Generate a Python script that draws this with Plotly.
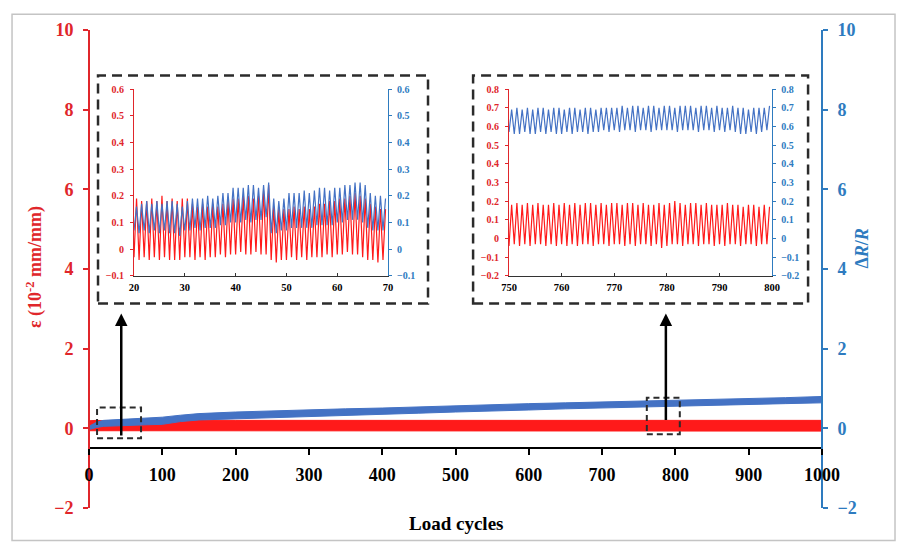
import plotly.graph_objects as go

# ---------------- data ----------------
# main chart: envelope of the oscillating signals (value read at cycle)
band_cycles = [0, 10, 20, 50, 80, 100, 125, 150, 200, 250, 300, 350, 400, 450,
               500, 550, 600, 650, 700, 750, 800, 850, 900, 950, 1000]
blue_upper = [0.05, 0.15, 0.20, 0.23, 0.26, 0.28, 0.33, 0.37, 0.41, 0.44, 0.46, 0.49, 0.51,
              0.54, 0.57, 0.60, 0.62, 0.64, 0.66, 0.68, 0.70, 0.72, 0.74, 0.77, 0.80]
blue_lower = [-0.03, 0.02, 0.05, 0.07, 0.09, 0.10, 0.17, 0.21, 0.24, 0.27, 0.29, 0.32, 0.35,
              0.38, 0.41, 0.44, 0.46, 0.49, 0.51, 0.54, 0.56, 0.58, 0.60, 0.62, 0.64]
red_upper = [0.19, 0.20, 0.19, 0.20, 0.21, 0.20, 0.20, 0.21, 0.20, 0.20, 0.21, 0.20, 0.20,
             0.21, 0.20, 0.20, 0.21, 0.20, 0.21, 0.20, 0.20, 0.21, 0.20, 0.21, 0.20]
red_lower = [-0.06, -0.07, -0.06, -0.07, -0.06, -0.07, -0.07, -0.06, -0.07, -0.07, -0.06, -0.07, -0.07,
             -0.06, -0.07, -0.07, -0.06, -0.07, -0.07, -0.06, -0.07, -0.07, -0.06, -0.07, -0.07]

# inset 1: cycles 20-69, per-cycle troughs and peaks
in1_cycles = list(range(20, 70))
in1_blue_peak = [0.16, 0.17, 0.18, 0.17, 0.18, 0.17, 0.18, 0.18, 0.17, 0.16,
                 0.18, 0.19, 0.19, 0.19, 0.20, 0.19, 0.20, 0.21, 0.21, 0.23,
                 0.23, 0.23, 0.24, 0.24, 0.23, 0.24, 0.25, 0.19, 0.18, 0.19,
                 0.21, 0.21, 0.21, 0.22, 0.21, 0.22, 0.23, 0.23, 0.22, 0.23,
                 0.23, 0.24, 0.24, 0.25, 0.25, 0.24, 0.21, 0.20, 0.20, 0.19]
in1_blue_trough = [0.07, 0.06, 0.07, 0.06, 0.07, 0.06, 0.07, 0.06, 0.06, 0.05,
                   0.07, 0.07, 0.08, 0.07, 0.08, 0.08, 0.08, 0.09, 0.09, 0.10,
                   0.10, 0.10, 0.11, 0.10, 0.11, 0.11, 0.12, 0.06, 0.06, 0.07,
                   0.07, 0.08, 0.08, 0.08, 0.08, 0.08, 0.09, 0.09, 0.09, 0.09,
                   0.10, 0.10, 0.11, 0.11, 0.11, 0.10, 0.08, 0.07, 0.07, 0.07]
in1_red_peak = [0.19, 0.18, 0.18, 0.19, 0.18, 0.20, 0.18, 0.19, 0.18, 0.19,
                0.19, 0.17, 0.16, 0.17, 0.16, 0.17, 0.16, 0.17, 0.18, 0.19,
                0.19, 0.20, 0.20, 0.19, 0.20, 0.22, 0.24, 0.16, 0.15, 0.15,
                0.15, 0.16, 0.15, 0.16, 0.15, 0.16, 0.17, 0.17, 0.18, 0.18,
                0.19, 0.19, 0.20, 0.21, 0.20, 0.19, 0.17, 0.16, 0.15, 0.15]
in1_red_trough = [-0.03, -0.04, -0.03, -0.04, -0.03, -0.04, -0.03, -0.04, -0.04, -0.04,
                  -0.03, -0.03, -0.04, -0.03, -0.04, -0.03, -0.03, -0.02, -0.03, -0.02,
                  -0.02, -0.01, -0.02, -0.02, -0.01, -0.02, -0.02, -0.04, -0.05, -0.04,
                  -0.04, -0.03, -0.04, -0.03, -0.04, -0.03, -0.03, -0.03, -0.02, -0.03,
                  -0.02, -0.02, -0.01, -0.02, -0.02, -0.03, -0.04, -0.04, -0.05, -0.04]

# inset 2: cycles 750-799
in2_cycles = list(range(750, 800))
in2_blue_peak = [0.69, 0.70, 0.69, 0.70, 0.69, 0.70, 0.70, 0.69, 0.70, 0.70,
                 0.69, 0.70, 0.70, 0.69, 0.70, 0.70, 0.69, 0.70, 0.70, 0.70,
                 0.70, 0.71, 0.70, 0.71, 0.71, 0.70, 0.71, 0.71, 0.70, 0.71,
                 0.71, 0.70, 0.71, 0.71, 0.71, 0.70, 0.71, 0.71, 0.70, 0.71,
                 0.70, 0.70, 0.71, 0.70, 0.70, 0.69, 0.70, 0.70, 0.70, 0.71]
in2_blue_trough = [0.57, 0.56, 0.56, 0.57, 0.56, 0.56, 0.57, 0.56, 0.57, 0.56,
                   0.56, 0.57, 0.56, 0.57, 0.57, 0.56, 0.57, 0.57, 0.58, 0.57,
                   0.58, 0.57, 0.58, 0.58, 0.57, 0.58, 0.58, 0.57, 0.58, 0.58,
                   0.58, 0.58, 0.57, 0.58, 0.58, 0.58, 0.57, 0.58, 0.58, 0.57,
                   0.58, 0.57, 0.58, 0.57, 0.56, 0.56, 0.57, 0.56, 0.57, 0.58]
in2_red_peak = [0.18, 0.19, 0.18, 0.19, 0.18, 0.19, 0.18, 0.18, 0.19, 0.18,
                0.19, 0.18, 0.19, 0.18, 0.19, 0.19, 0.18, 0.19, 0.18, 0.19,
                0.19, 0.18, 0.19, 0.19, 0.18, 0.19, 0.18, 0.18, 0.19, 0.18,
                0.19, 0.20, 0.19, 0.18, 0.19, 0.19, 0.18, 0.19, 0.18, 0.18,
                0.18, 0.19, 0.18, 0.18, 0.17, 0.18, 0.18, 0.17, 0.18, 0.17]
in2_red_trough = [-0.04, -0.03, -0.04, -0.03, -0.04, -0.03, -0.03, -0.04, -0.03, -0.04,
                  -0.03, -0.04, -0.03, -0.04, -0.03, -0.03, -0.04, -0.03, -0.03, -0.04,
                  -0.03, -0.03, -0.04, -0.03, -0.04, -0.03, -0.03, -0.04, -0.03, -0.05,
                  -0.04, -0.03, -0.03, -0.04, -0.03, -0.03, -0.04, -0.03, -0.03, -0.04,
                  -0.03, -0.04, -0.03, -0.03, -0.04, -0.03, -0.03, -0.04, -0.03, -0.03]

main_x_ticks = [0, 100, 200, 300, 400, 500, 600, 700, 800, 900, 1000]
main_y_ticks = [-2, 0, 2, 4, 6, 8, 10]
in1_x_ticks = [20, 30, 40, 50, 60, 70]
in1_y_ticks = [-0.1, 0, 0.1, 0.2, 0.3, 0.4, 0.5, 0.6]
in2_x_ticks = [750, 760, 770, 780, 790, 800]
in2_y_ticks = [-0.2, -0.1, 0, 0.1, 0.2, 0.3, 0.4, 0.5, 0.6, 0.7, 0.8]

# ---------------- style ----------------
RED = "#ff1a1a"
RED_AX = "#e0262b"
BLUE = "#4472c4"
BLUE_AX = "#2e7bbf"
FONT = "Liberation Serif"


def band(xs, lo, hi):
    return list(xs) + list(xs)[::-1], list(hi) + list(lo)[::-1]


def zigzag(cycles, troughs, peaks):
    xs, ys = [], []
    for c, t, p in zip(cycles, troughs, peaks):
        xs += [c, c + 0.5]
        ys += [t, p]
    return xs, ys


fig = go.Figure()

bx, by = band(band_cycles, red_lower, red_upper)
fig.add_trace(go.Scatter(x=bx, y=by, fill="toself", fillcolor=RED, mode="lines",
                         line=dict(color=RED, width=1), xaxis="x", yaxis="y", hoverinfo="skip"))
bx, by = band(band_cycles, blue_lower, blue_upper)
fig.add_trace(go.Scatter(x=bx, y=by, fill="toself", fillcolor=BLUE, mode="lines",
                         line=dict(color=BLUE, width=1), xaxis="x", yaxis="y2", hoverinfo="skip"))

zx, zy = zigzag(in1_cycles, in1_red_trough, in1_red_peak)
fig.add_trace(go.Scatter(x=zx, y=zy, mode="lines", line=dict(color=RED, width=1.2),
                         xaxis="x3", yaxis="y3"))
zx, zy = zigzag(in1_cycles, in1_blue_trough, in1_blue_peak)
fig.add_trace(go.Scatter(x=zx, y=zy, mode="lines", line=dict(color=BLUE, width=1.2),
                         xaxis="x3", yaxis="y4"))

zx, zy = zigzag(in2_cycles, in2_red_trough, in2_red_peak)
fig.add_trace(go.Scatter(x=zx, y=zy, mode="lines", line=dict(color=RED, width=1.2),
                         xaxis="x4", yaxis="y5"))
zx, zy = zigzag(in2_cycles, in2_blue_trough, in2_blue_peak)
fig.add_trace(go.Scatter(x=zx, y=zy, mode="lines", line=dict(color=BLUE, width=1.2),
                         xaxis="x4", yaxis="y6"))

tf_main = dict(family=FONT, size=18, weight="bold")
tf_in = dict(family=FONT, size=10, weight="bold")
tf_inx = dict(family=FONT, size=10.5, weight="bold", color="black")

in_dom_y = [0.4856, 0.8765]

# the page adds an 8px body margin, so the figure is sized/margined to compensate
fig.update_layout(
    width=899, height=538,
    margin=dict(l=81, r=85, t=14, b=38),
    paper_bgcolor="white", plot_bgcolor="rgba(0,0,0,0)",
    showlegend=False,
    xaxis=dict(range=[0, 1000], domain=[0, 1], anchor="free", position=0.125,
               tickvals=main_x_ticks, showline=True, linecolor="black", linewidth=2,
               ticks="outside", ticklen=6, tickwidth=2, tickcolor="black",
               ticklabelstandoff=4,
               tickfont=dict(tf_main, color="black"), showgrid=False, zeroline=False),
    yaxis=dict(range=[-2, 10], domain=[0, 1], anchor="free", position=0,
               tickvals=main_y_ticks, showline=True, linecolor=RED_AX, linewidth=2,
               ticks="outside", ticklen=5, tickwidth=2, tickcolor=RED_AX,
               ticklabelstandoff=6,
               tickfont=dict(tf_main, color=RED_AX), showgrid=False, zeroline=False),
    yaxis2=dict(range=[-2, 10], overlaying="y", side="right", anchor="free", position=1,
                tickvals=main_y_ticks, showline=True, linecolor=BLUE_AX, linewidth=2,
                ticks="outside", ticklen=5, tickwidth=2, tickcolor=BLUE_AX,
                ticklabelstandoff=6,
                tickfont=dict(tf_main, color=BLUE_AX), showgrid=False, zeroline=False),
    xaxis3=dict(range=[20, 70], domain=[0.0614, 0.408], anchor="y3",
                tickvals=in1_x_ticks, showline=True, linecolor="#333333", linewidth=1,
                ticks="inside", ticklen=3, tickcolor="#333333", ticklabelstandoff=2,
                tickfont=tf_inx, showgrid=False, zeroline=False),
    yaxis3=dict(range=[-0.1, 0.6], domain=in_dom_y, anchor="x3",
                tickvals=in1_y_ticks, showline=True, linecolor=RED_AX, linewidth=1,
                ticks="outside", ticklen=3, tickcolor=RED_AX, ticklabelstandoff=4,
                tickfont=dict(tf_in, color=RED_AX), showgrid=False, zeroline=False),
    yaxis4=dict(range=[-0.1, 0.6], overlaying="y3", side="right", anchor="x3",
                tickvals=in1_y_ticks, showline=True, linecolor=BLUE_AX, linewidth=1,
                ticks="outside", ticklen=3, tickcolor=BLUE_AX, ticklabelstandoff=3,
                tickfont=dict(tf_in, color=BLUE_AX), showgrid=False, zeroline=False),
    xaxis4=dict(range=[750, 800], domain=[0.573, 0.932], anchor="y5",
                tickvals=in2_x_ticks, showline=True, linecolor="#333333", linewidth=1,
                ticks="inside", ticklen=3, tickcolor="#333333", ticklabelstandoff=2,
                tickfont=tf_inx, showgrid=False, zeroline=False),
    yaxis5=dict(range=[-0.2, 0.8], domain=in_dom_y, anchor="x4",
                tickvals=in2_y_ticks, showline=True, linecolor=RED_AX, linewidth=1,
                ticks="outside", ticklen=3, tickcolor=RED_AX, ticklabelstandoff=4,
                tickfont=dict(tf_in, color=RED_AX), showgrid=False, zeroline=False),
    yaxis6=dict(range=[-0.2, 0.8], overlaying="y5", side="right", anchor="x4",
                tickvals=in2_y_ticks, showline=True, linecolor=BLUE_AX, linewidth=1,
                ticks="outside", ticklen=3, tickcolor=BLUE_AX, ticklabelstandoff=3,
                tickfont=dict(tf_in, color=BLUE_AX), showgrid=False, zeroline=False),
)

dash_big = "10px,6px"
dash_small = "6px,4px"
shapes = [
    # figure frame
    dict(type="rect", xref="paper", yref="paper", x0=-0.105, x1=1.0996, y0=-0.068, y1=1.033,
         line=dict(color="#c4c4c4", width=1.5)),
    # inset frames
    dict(type="rect", xref="paper", yref="paper", x0=0.0123, x1=0.4625, y0=0.428, y1=0.905,
         line=dict(color="#2b2b2b", width=2.5, dash=dash_big)),
    dict(type="rect", xref="paper", yref="paper", x0=0.524, x1=0.981, y0=0.428, y1=0.905,
         line=dict(color="#2b2b2b", width=2.5, dash=dash_big)),
    # zoom regions in main chart
    dict(type="rect", xref="x", yref="y", x0=11, x1=71, y0=-0.25, y1=0.52,
         line=dict(color="#2b2b2b", width=2, dash=dash_small)),
    dict(type="rect", xref="x", yref="y", x0=761, x1=806, y0=-0.15, y1=0.77,
         line=dict(color="#2b2b2b", width=2, dash=dash_small)),
]
fig.update_layout(shapes=shapes)

annotations = [
    dict(x=44, y=2.88, ax=44, ay=-0.22, xref="x", yref="y", axref="x", ayref="y",
         showarrow=True, arrowhead=2, arrowsize=1, arrowwidth=2.5, arrowcolor="black", text=""),
    dict(x=787, y=2.88, ax=787, ay=0.17, xref="x", yref="y", axref="x", ayref="y",
         showarrow=True, arrowhead=2, arrowsize=1, arrowwidth=2.5, arrowcolor="black", text=""),
    dict(text="ε (10<sup>-2</sup> mm/mm)", x=-0.0737, y=0.504, xref="paper", yref="paper",
         xanchor="center", yanchor="middle", textangle=-90, showarrow=False,
         font=dict(family=FONT, size=18, weight="bold", color=RED_AX)),
    dict(text="Δ<i>R</i>/<i>R</i>", x=1.0546, y=0.543, xref="paper", yref="paper",
         xanchor="center", yanchor="middle", textangle=-90, showarrow=False,
         font=dict(family=FONT, size=18, weight="bold", color=BLUE_AX)),
    dict(text="Load cycles", x=0.5, y=-0.033, xref="paper", yref="paper",
         xanchor="center", yanchor="middle", showarrow=False,
         font=dict(family=FONT, size=19, weight="bold", color="black")),
]
fig.update_layout(annotations=annotations)

fig.write_html("out.html")
